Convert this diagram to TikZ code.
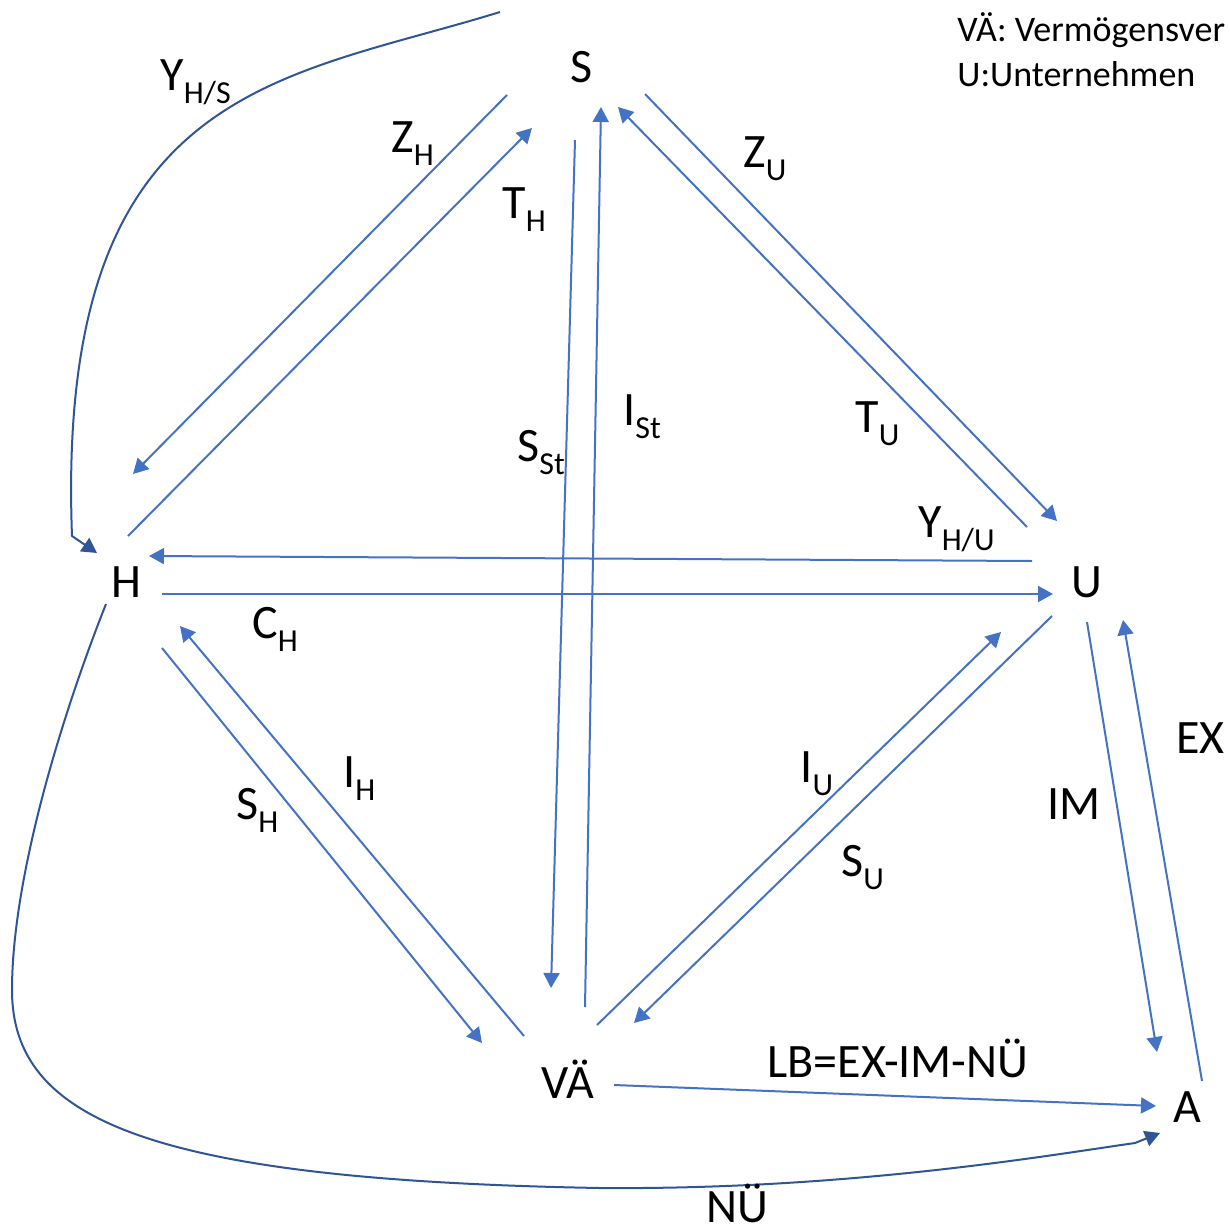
\documentclass[tikz,border=0pt]{standalone}
\usepackage{fontspec}
\setmainfont{Carlito}
\usetikzlibrary{arrows.meta}
\definecolor{lineblue}{RGB}{68,114,196}
\definecolor{curveblue}{RGB}{47,85,151}
\newcommand{\subidx}[1]{\raisebox{-6.5pt}{\fontsize{16}{18}\selectfont #1}}
\tikzset{
  sector/.style={anchor=base, inner sep=0pt, font=\fontsize{24}{28}\selectfont},
  lbl/.style={anchor=base west, inner sep=0pt, font=\fontsize{24}{28}\selectfont},
  legend/.style={anchor=base west, inner sep=0pt, font=\fontsize{18}{22}\selectfont},
  arrow/.style={-{Triangle[length=7.5pt,width=8pt]}, line width=1pt, draw=lineblue},
  curvearrow/.style={arrow, draw=curveblue}
}
\begin{document}
\begin{tikzpicture}[x=0.5pt, y=-0.5pt]
  \useasboundingbox (0,0) rectangle (1230,1232);
  % sectors
  \node[sector] (S) at (582,82) {S};
  \node[sector] (H) at (126,597) {H};
  \node[sector] (U) at (1087,597) {U};
  \node[sector] (VA) at (568,1098) {VÄ};
  \node[sector] (A) at (1187,1122) {A};
  % legend
  \node[legend] (legva) at (957,41) {VÄ: Vermögensver};
  \node[legend] (legu) at (957,86) {U:Unternehmen};
  % flows between H and S
  \draw[arrow] ([shift={(-75,13)}]S.base) -- ([shift={(7,-123)}]H.base);
  \draw[arrow] ([shift={(2,-61)}]H.base) -- ([shift={(-50,46)}]S.base);
  % flows between S and VÄ
  \draw[arrow] ([shift={(-7,58)}]S.base) -- ([shift={(-17,-110)}]VA.base);
  \draw[arrow] ([shift={(17,-91)}]VA.base) -- ([shift={(19,25)}]S.base);
  % flows between S and U
  \draw[arrow] ([shift={(63,12)}]S.base) -- ([shift={(-30,-76)}]U.base);
  \draw[arrow] ([shift={(-60,-70)}]U.base) -- ([shift={(36,25)}]S.base);
  % flows between H and U
  \draw[arrow] ([shift={(-55,-36)}]U.base) -- ([shift={(23,-41)}]H.base);
  \draw[arrow] ([shift={(36,-3)}]H.base) -- ([shift={(-34,-3)}]U.base);
  % flows between H and VÄ
  \draw[arrow] ([shift={(36,51)}]H.base) -- ([shift={(-86,-55)}]VA.base);
  \draw[arrow] ([shift={(-44,-62)}]VA.base) -- ([shift={(54,29)}]H.base);
  % flows between U and VÄ
  \draw[arrow] ([shift={(29,-73)}]VA.base) -- ([shift={(-86,35)}]U.base);
  \draw[arrow] ([shift={(-35,19)}]U.base) -- ([shift={(66,-75)}]VA.base);
  % foreign trade
  \draw[arrow] ([shift={(0,25)}]U.base) -- ([shift={(-30,-70)}]A.base);
  \draw[arrow] ([shift={(15,-41)}]A.base) -- ([shift={(36,23)}]U.base);
  \draw[arrow] ([shift={(46,-13)}]VA.base) -- ([shift={(-31,-16)}]A.base);
  % curved flows
  \draw[curvearrow] ([shift={(-82,-70)}]S.base)
    .. controls (280,80) and (55,85) .. (72,536)
    -- ([shift={(-29,-44)}]H.base);
  \draw[curvearrow] ([shift={(-20,7)}]H.base)
    .. controls (60,720) and (12,880) .. (12,990)
    .. controls (12,1120) and (150,1180) .. (600,1188)
    .. controls (850,1190) and (1050,1155) .. (1135,1143)
    -- ([shift={(-27,11)}]A.base);
  % labels
  \node[lbl] (lyhs) at (160,90) {Y\subidx{H/S}};
  \node[lbl] (lzh) at (391,152) {Z\subidx{H}};
  \node[lbl] (lth) at (502,218) {T\subidx{H}};
  \node[lbl] (lzu) at (743,167) {Z\subidx{U}};
  \node[lbl] (lsst) at (517,461) {S\subidx{St}};
  \node[lbl] (list) at (623,425) {I\subidx{St}};
  \node[lbl] (ltu) at (855,432) {T\subidx{U}};
  \node[lbl] (lyhu) at (918,537) {Y\subidx{H/U}};
  \node[lbl] (lch) at (252,638) {C\subidx{H}};
  \node[lbl] (lih) at (343,787) {I\subidx{H}};
  \node[lbl] (lsh) at (236,819) {S\subidx{H}};
  \node[lbl] (liu) at (800,782) {I\subidx{U}};
  \node[lbl] (lsu) at (841,876) {S\subidx{U}};
  \node[lbl] (lex) at (1176,753) {EX};
  \node[lbl] (lim) at (1047,819) {IM};
  \node[lbl] (llb) at (767,1077) {LB=EX-IM-NÜ};
  \node[lbl] (lnu) at (706,1222) {NÜ};
\end{tikzpicture}
\end{document}
